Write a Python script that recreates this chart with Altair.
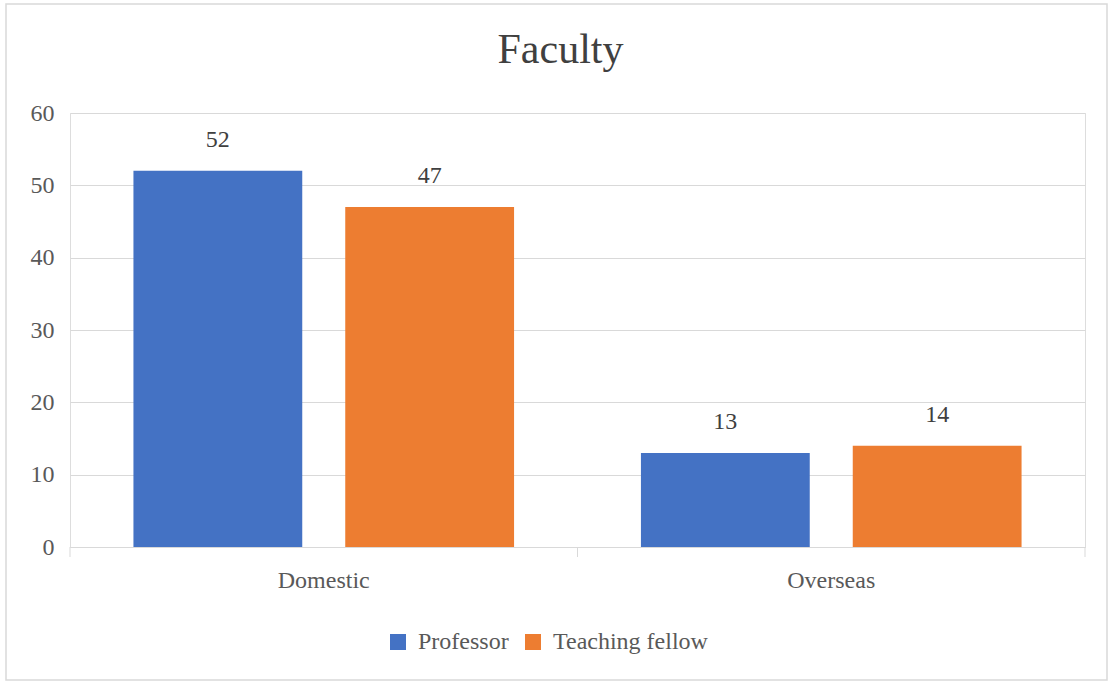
import altair as alt
import pandas as pd

categories = ["Domestic", "Domestic", "Overseas", "Overseas"]
series = ["Professor", "Teaching fellow", "Professor", "Teaching fellow"]
values = [52, 47, 13, 14]
series_order = ["Professor", "Teaching fellow"]
colors = ["#4472C4", "#ED7D31"]
y_ticks = [0, 10, 20, 30, 40, 50, 60]

df = pd.DataFrame({"category": categories, "series": series, "value": values})

W, H = 1015, 434
FONT = "Times New Roman, Liberation Serif, serif"
FS = 24

x_enc = alt.X("category:N", title=None,
              scale=alt.Scale(paddingInner=0.25, paddingOuter=0.125),
              axis=alt.Axis(labelAngle=0, ticks=False, domainColor="#d9d9d9",
                            labelFontSize=FS, labelColor="#595959", labelFont=FONT,
                            labelPadding=21))
xoff = alt.XOffset("series:N", sort=series_order, scale=alt.Scale(paddingInner=0.203, paddingOuter=0))
y_enc = alt.Y("value:Q", title=None,
              scale=alt.Scale(domain=[0, 60]),
              axis=alt.Axis(values=y_ticks, domain=False, ticks=False, gridColor="#d9d9d9",
                            labelFontSize=FS, labelColor="#595959", labelFont=FONT,
                            labelPadding=16))

bars = alt.Chart(df).mark_bar().encode(
    x=x_enc, xOffset=xoff, y=y_enc,
    color=alt.Color("series:N", sort=series_order, title=None,
                    scale=alt.Scale(domain=series_order, range=colors),
                    legend=alt.Legend(orient="none", legendX=316, legendY=517, direction="horizontal",
                                      symbolType="square", symbolSize=256, symbolStrokeWidth=0,
                                      labelFontSize=FS, labelFont=FONT, labelColor="#595959",
                                      columnPadding=12, labelOffset=8)),
)

labels = alt.Chart(df).mark_text(fontSize=FS, font=FONT, color="#404040", baseline="middle", dy=-31).encode(
    x=alt.X("category:N"), xOffset=xoff, y=alt.Y("value:Q"), text=alt.Text("value:Q"),
)

tick_df = pd.DataFrame({"pos": [0, 1, 2]})
tick_layers = [
    alt.Chart(tick_df.head(1)).mark_rule(color="#d9d9d9", strokeWidth=1).encode(
        x=alt.value(xp), y=alt.value(H), y2=alt.value(H + 10))
    for xp in [0, W / 2, W]
]
border = alt.Chart(tick_df.head(1)).mark_rect(fill=None, stroke="#d9d9d9", strokeWidth=1.5).encode(
    x=alt.value(-64), x2=alt.value(1037), y=alt.value(-109), y2=alt.value(567),
)

chart = alt.layer(border, bars, labels, *tick_layers).properties(
    width=W, height=H,
    title=alt.TitleParams("Faculty", fontSize=42, font=FONT, fontWeight="normal", color="#404040",
                          anchor="middle", offset=-69, dx=-17),
    padding={"left": 70, "top": 113, "right": 25, "bottom": 137},
    autosize=alt.AutoSizeParams(type="none"),
).configure_view(stroke=None).configure(background="white")

chart.save("out.html", embed_options={"renderer": "svg", "actions": False})
